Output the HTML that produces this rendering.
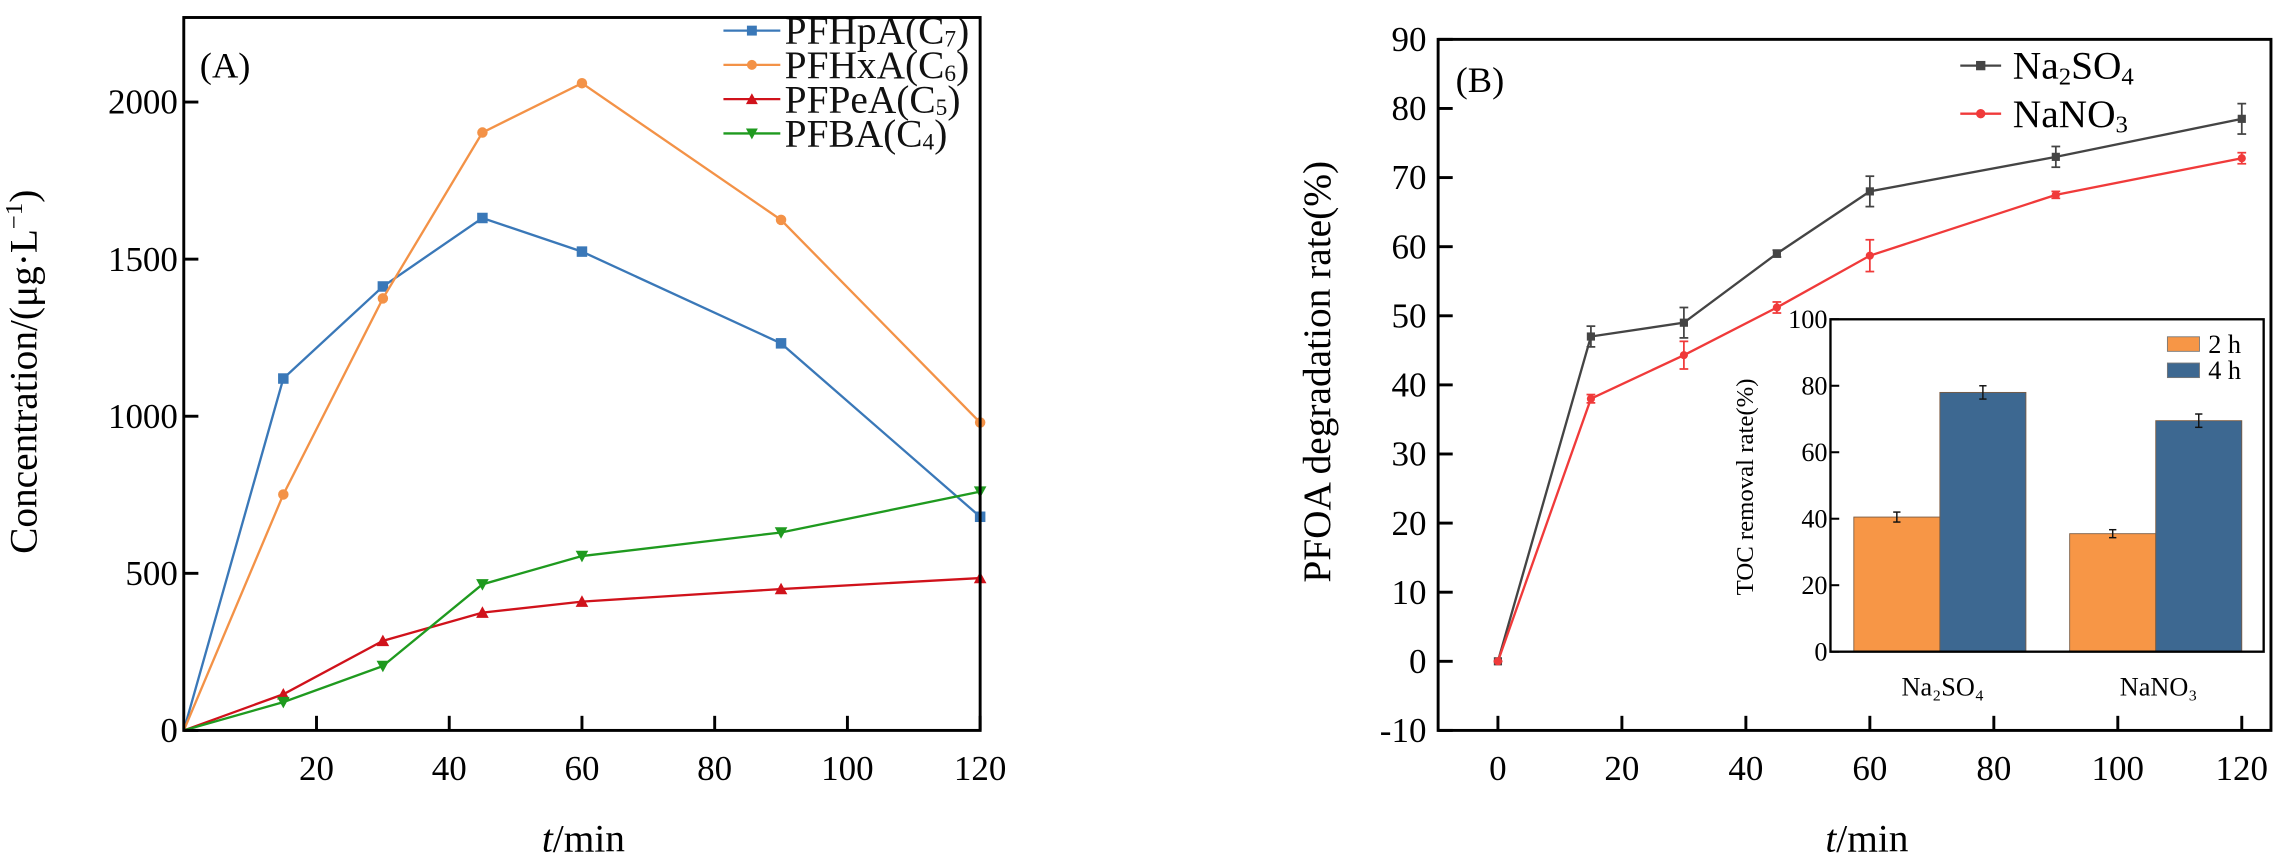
<!DOCTYPE html>
<html><head><meta charset="utf-8"><style>
html,body{margin:0;padding:0;background:#fff;}
svg{display:block;font-family:"Liberation Serif","Noto Serif CJK SC",serif;}
</style></head><body>
<svg id="fig" width="2287" height="866" viewBox="0 0 1568 594" preserveAspectRatio="none" xmlns="http://www.w3.org/2000/svg">
<rect width="1568" height="594" fill="#fff"/>
<g id="pa"></g>
<g id="pb"></g>
<g id="pi"></g>
</svg>
<script>
const timesA = [0, 15, 30, 45, 60, 90, 120];
const pfhpa = [0, 1120, 1413, 1631, 1524, 1232, 680];
const pfhxa = [0, 751, 1375, 1903, 2060, 1625, 980];
const pfpea = [0, 115, 285, 375, 410, 450, 485];
const pfba = [0, 90, 205, 465, 555, 630, 760];
const yTicksA = [0, 500, 1000, 1500, 2000];
const xTicksA = [20, 40, 60, 80, 100, 120];

const timesB = [0, 15, 30, 45, 60, 90, 120];
const na2so4 = [0, 47, 49, 59, 68, 73, 78.5];
const na2so4Err = [0, 1.5, 2.2, 0.5, 2.2, 1.5, 2.2];
const nano3 = [0, 38, 44.3, 51.2, 58.7, 67.5, 72.8];
const nano3Err = [0, 0.6, 2, 0.8, 2.3, 0.5, 0.8];
const yTicksB = [-10, 0, 10, 20, 30, 40, 50, 60, 70, 80, 90];
const xTicksB = [0, 20, 40, 60, 80, 100, 120];

const tocCats = ["Na₂SO₄", "NaNO₃"];
const toc2h = [40.5, 35.5];
const toc2hErr = [1.5, 1.2];
const toc4h = [78, 69.5];
const toc4hErr = [2, 2];
const yTicksI = [0, 20, 40, 60, 80, 100];

const NS = "http://www.w3.org/2000/svg";
function mk(parent, tag, attrs, text) {
  const e = document.createElementNS(NS, tag);
  for (const k in attrs) e.setAttribute(k, attrs[k]);
  if (text !== undefined) e.textContent = text;
  parent.appendChild(e);
  return e;
}
function marker(g, type, x, y, s, color) {
  let e;
  if (type === "sq") e = mk(g, "rect", {x: x - s, y: y - s, width: 2 * s, height: 2 * s, fill: color});
  else if (type === "ci") e = mk(g, "circle", {cx: x, cy: y, r: s, fill: color});
  else if (type === "up") e = mk(g, "polygon", {points: `${x},${y - s * 1.2} ${x - s * 1.2},${y + s} ${x + s * 1.2},${y + s}`, fill: color});
  else e = mk(g, "polygon", {points: `${x},${y + s * 1.2} ${x - s * 1.2},${y - s} ${x + s * 1.2},${y - s}`, fill: color});
  return e;
}

/* ---------- Panel A ---------- */
const A = document.getElementById("pa");
const aL = 126, aR = 672, aT = 12, aB = 501;
const xA = t => aL + (t - 0) * (aR - aL) / 120;
const yA = v => aB - v * (aB - 70) / 2000;
const seriesA = [
  {name: "PFHpA", sub: "7", data: pfhpa, color: "#3a78b8", m: "sq"},
  {name: "PFHxA", sub: "6", data: pfhxa, color: "#f39247", m: "ci"},
  {name: "PFPeA", sub: "5", data: pfpea, color: "#d0121b", m: "up"},
  {name: "PFBA", sub: "4", data: pfba, color: "#1f9a1f", m: "dn"}
];
seriesA.forEach((s, si) => {
  const g = mk(A, "g", {});
  
  
  mk(g, "polyline", {points: timesA.map((t, i) => xA(t) + "," + yA(s.data[i])).join(" "), fill: "none", stroke: s.color, "stroke-width": 1.6});
  timesA.forEach((t, i) => {
    if (i === 0) return;
    const m = marker(g, s.m, xA(t), yA(s.data[i]), 3.6, s.color);
    
    
  });
  const lg = mk(A, "g", {});
  
  
  const ly = 21 + si * 23.5;
  mk(lg, "line", {x1: 496, x2: 535, y1: ly, y2: ly, stroke: s.color, "stroke-width": 1.6});
  marker(lg, s.m, 515.5, ly, 3.4, s.color);
  const tx = mk(lg, "text", {x: 538, y: ly + 9, "font-size": 27, fill: "#111"});
  tx.textContent = s.name + "(C";
  mk(tx, "tspan", {"font-size": 16, dy: 2}, s.sub);
  mk(tx, "tspan", {dy: -2}, ")");
});
const frameA = mk(A, "rect", {x: aL, y: aT, width: aR - aL, height: aB - aT, fill: "none", stroke: "#000", "stroke-width": 2});


yTicksA.forEach(v => {
  mk(A, "line", {x1: aL, x2: aL + 10, y1: yA(v), y2: yA(v), stroke: "#000", "stroke-width": 2});
  const t = mk(A, "text", {x: aL - 4, y: yA(v) + 8, "font-size": 24, "text-anchor": "end"}, String(v));
  
  
});
xTicksA.forEach(v => {
  mk(A, "line", {x1: xA(v), x2: xA(v), y1: aB, y2: aB - 10, stroke: "#000", "stroke-width": 2});
  const t = mk(A, "text", {x: xA(v), y: aB + 34, "font-size": 24, "text-anchor": "middle"}, String(v));
  
  
});
</script>
<script>
(function(){
const A = document.getElementById("pa");
const lab = mk(A, "text", {x: 137, y: 53, "font-size": 25}, "(A)");


const yt = mk(A, "text", {x: 0, y: 0, "font-size": 27, "text-anchor": "middle", transform: "translate(25,255) rotate(-90)"});


yt.textContent = "Concentration/(μg·L";
mk(yt, "tspan", {"font-size": 17, dy: -10}, "−1");
mk(yt, "tspan", {dy: 10}, ")");
const xt = mk(A, "text", {x: 400, y: 584, "font-size": 27, "text-anchor": "middle"});


mk(xt, "tspan", {"font-style": "italic"}, "t");
mk(xt, "tspan", {}, "/min");

/* ---------- Panel B ---------- */
const B = document.getElementById("pb");
const bL = 986, bR = 1557, bT = 27, bB = 501;
const xB = t => 1027 + t * (1537 - 1027) / 120;
const yB = v => bB - (v + 10) * (bB - bT) / 100;
const seriesB = [
  {name: "na2so4", data: na2so4, err: na2so4Err, color: "#444", m: "sq"},
  {name: "nano3", data: nano3, err: nano3Err, color: "#f03a3a", m: "ci"}
];
seriesB.forEach(s => {
  const g = mk(B, "g", {});
  
  
  mk(g, "polyline", {points: timesB.map((t, i) => xB(t) + "," + yB(s.data[i])).join(" "), fill: "none", stroke: s.color, "stroke-width": 1.6});
  timesB.forEach((t, i) => {
    const x = xB(t), y1 = yB(s.data[i] + s.err[i]), y2 = yB(s.data[i] - s.err[i]);
    mk(g, "line", {x1: x, x2: x, y1: y1, y2: y2, stroke: s.color, "stroke-width": 1.2});
    mk(g, "line", {x1: x - 3, x2: x + 3, y1: y1, y2: y1, stroke: s.color, "stroke-width": 1.2});
    mk(g, "line", {x1: x - 3, x2: x + 3, y1: y2, y2: y2, stroke: s.color, "stroke-width": 1.2});
    const m = marker(g, s.m, x, yB(s.data[i]), 2.8, s.color);
    
    
  });
});
const frameB = mk(B, "rect", {x: bL, y: bT, width: bR - bL, height: bB - bT, fill: "none", stroke: "#000", "stroke-width": 2});


yTicksB.forEach(v => {
  mk(B, "line", {x1: bL, x2: bL + 10, y1: yB(v), y2: yB(v), stroke: "#000", "stroke-width": 2});
  const t = mk(B, "text", {x: bL - 8, y: yB(v) + 8, "font-size": 24, "text-anchor": "end"}, String(v));
  
  
});
xTicksB.forEach(v => {
  mk(B, "line", {x1: xB(v), x2: xB(v), y1: bB, y2: bB - 10, stroke: "#000", "stroke-width": 2});
  const t = mk(B, "text", {x: xB(v), y: bB + 34, "font-size": 24, "text-anchor": "middle"}, String(v));
  
  
});
const lb = mk(B, "text", {x: 998, y: 63, "font-size": 25}, "(B)");


const ybt = mk(B, "text", {x: 0, y: 0, "font-size": 27, "text-anchor": "middle", transform: "translate(912,255) rotate(-90)"}, "PFOA degradation rate(%)");


const xbt = mk(B, "text", {x: 1280, y: 584, "font-size": 27, "text-anchor": "middle"});


mk(xbt, "tspan", {"font-style": "italic"}, "t");
mk(xbt, "tspan", {}, "/min");
[["Na", "2", "SO", "4", "#444", "sq"], ["NaNO", "3", "", "", "#f03a3a", "ci"]].forEach((e, i) => {
  const g = mk(B, "g", {});
  
  
  const ly = 45 + i * 33;
  mk(g, "line", {x1: 1344, x2: 1372, y1: ly, y2: ly, stroke: e[4], "stroke-width": 1.6});
  marker(g, e[5], 1358, ly, 3.2, e[4]);
  const t = mk(g, "text", {x: 1380, y: ly + 9, "font-size": 27});
  t.textContent = e[0];
  mk(t, "tspan", {"font-size": 17, dy: 4}, e[1]);
  if (e[2]) { mk(t, "tspan", {dy: -4}, e[2]); mk(t, "tspan", {"font-size": 17, dy: 4}, e[3]); }
});

/* ---------- Inset ---------- */
const I = document.getElementById("pi");
const iL = 1255, iR = 1552, iT = 219, iB = 447;
const yI = v => iB - v * (iB - iT) / 100;
const catX = [1330, 1478];
const bw = 59;
tocCats.forEach((c, i) => {
  [[toc2h, toc2hErr, "#f79646", -1, "2h"], [toc4h, toc4hErr, "#3d6891", 0, "4h"]].forEach(b => {
    const v = b[0][i], e = b[1][i], x = catX[i] + b[3] * bw;
    const r = mk(I, "rect", {x: x, y: yI(v), width: bw, height: yI(0) - yI(v), fill: b[2], stroke: "#7a5a40", "stroke-width": 0.6});
    
    
    const cx = x + bw / 2;
    mk(I, "line", {x1: cx, x2: cx, y1: yI(v + e), y2: yI(v - e), stroke: "#111", "stroke-width": 1});
    mk(I, "line", {x1: cx - 2.5, x2: cx + 2.5, y1: yI(v + e), y2: yI(v + e), stroke: "#111", "stroke-width": 1});
    mk(I, "line", {x1: cx - 2.5, x2: cx + 2.5, y1: yI(v - e), y2: yI(v - e), stroke: "#111", "stroke-width": 1});
  });
  const t = mk(I, "text", {x: catX[i] + 2, y: 477, "font-size": 18, "text-anchor": "middle"}, c);
  
  
});
const fi = mk(I, "rect", {x: iL, y: iT, width: iR - iL, height: iB - iT, fill: "none", stroke: "#000", "stroke-width": 1.6});


yTicksI.forEach(v => {
  mk(I, "line", {x1: iL, x2: iL + 6, y1: yI(v), y2: yI(v), stroke: "#000", "stroke-width": 1.4});
  const t = mk(I, "text", {x: iL - 2, y: yI(v) + 6, "font-size": 18, "text-anchor": "end"}, String(v));
  
  
});
const it = mk(I, "text", {x: 0, y: 0, "font-size": 17, "text-anchor": "middle", transform: "translate(1202,334) rotate(-90)"}, "TOC removal rate(%)");


[["2 h", "#f79646", 231], ["4 h", "#3d6891", 249]].forEach(l => {
  const g = mk(I, "g", {});
  
  
  mk(g, "rect", {x: 1486, y: l[2], width: 22, height: 10, fill: l[1], stroke: "#777", "stroke-width": 0.6});
  mk(g, "text", {x: 1514, y: l[2] + 11, "font-size": 18}, l[0]);
});
})();
</script>
</body></html>
